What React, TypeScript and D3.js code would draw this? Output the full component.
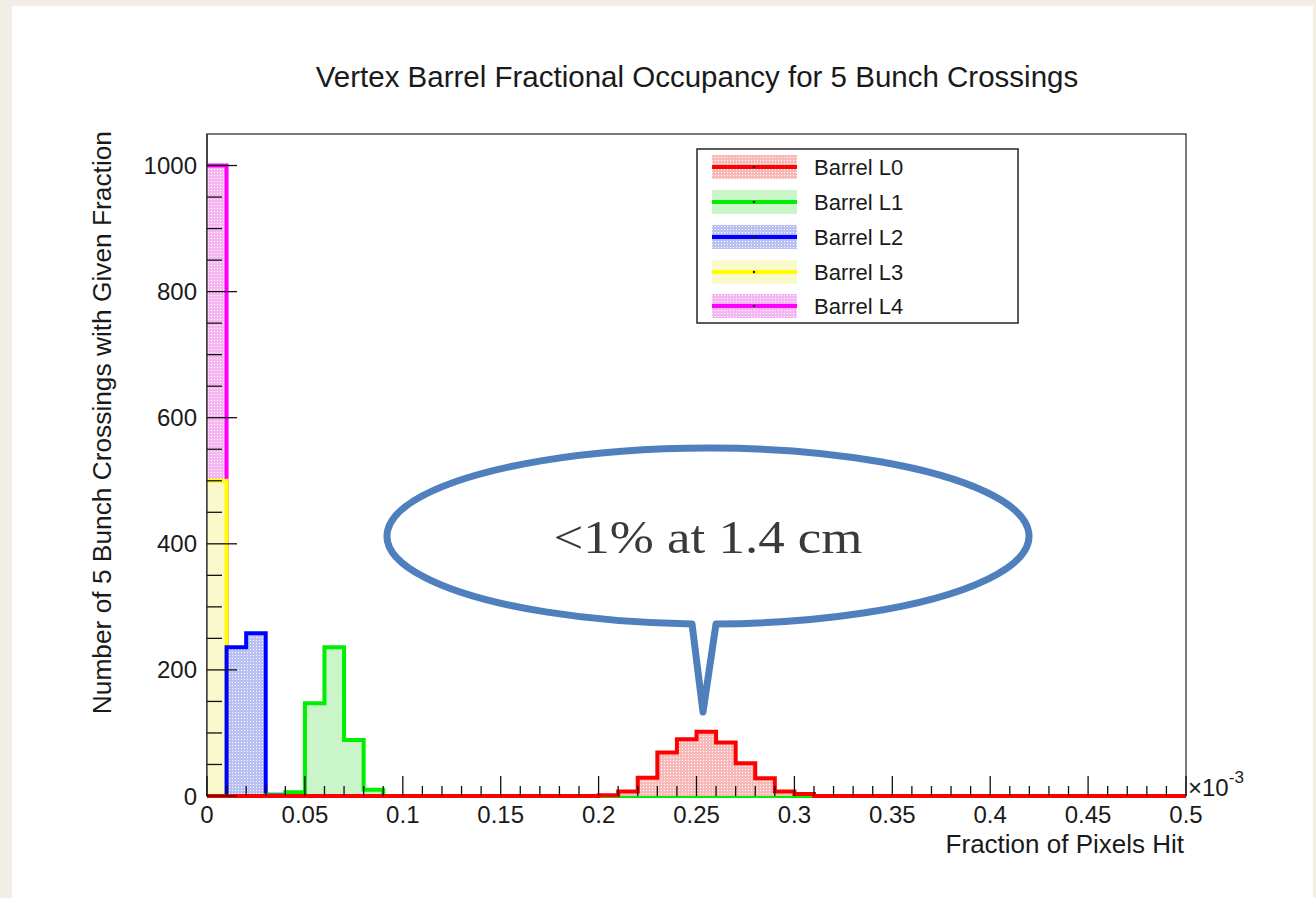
import React from "react";
import * as d3 from "d3";

// Occupancy histograms: 50 bins of width 0.01 (x10^-3) between 0 and 0.5
const NBINS = 50;
const BIN_LO = 0;
const BIN_HI = 0.5;

const layerNames = ["Barrel L0", "Barrel L1", "Barrel L2", "Barrel L3", "Barrel L4"];

// counts per bin, starting at the given bin index; all other bins are empty
const countsL0 = { first: 20, counts: [1, 7, 29, 69, 90, 102, 85, 52, 28, 7, 3] };
const countsL1 = { first: 3, counts: [1, 6, 147, 236, 89, 10] };
const countsL2 = { first: 1, counts: [236, 258, 2] };
const countsL3 = { first: 0, counts: [500] };
const countsL4 = { first: 0, counts: [1000] };

const xTickValues = [0, 0.05, 0.1, 0.15, 0.2, 0.25, 0.3, 0.35, 0.4, 0.45, 0.5];
const xTickLabels = ["0", "0.05", "0.1", "0.15", "0.2", "0.25", "0.3", "0.35", "0.4", "0.45", "0.5"];
const yTickValues = [0, 200, 400, 600, 800, 1000];
const yTickLabels = ["0", "200", "400", "600", "800", "1000"];

const W = 1316;
const H = 898;
const frame = { left: 207, right: 1186, top: 134, bottom: 796 };

const sans = "'Liberation Sans', Arial, Helvetica, sans-serif";

function expand(s: { first: number; counts: number[] }): number[] {
  const out = new Array(NBINS).fill(0);
  s.counts.forEach((c, i) => (out[s.first + i] = c));
  return out;
}

type Layer = { name: string; values: number[]; line: string; fill: string };

export default function App() {
  const x = d3.scaleLinear().domain([BIN_LO, BIN_HI]).range([frame.left, frame.right]);
  const y = d3.scaleLinear().domain([0, 1050]).range([frame.bottom, frame.top]);
  const binW = (BIN_HI - BIN_LO) / NBINS;

  const layers: Layer[] = [
    { name: layerNames[0], values: expand(countsL0), line: "#ff0000", fill: "url(#patRed)" },
    { name: layerNames[1], values: expand(countsL1), line: "#00ee00", fill: "#c9f5c9" },
    { name: layerNames[2], values: expand(countsL2), line: "#0000ff", fill: "url(#patBlue)" },
    { name: layerNames[3], values: expand(countsL3), line: "#ffff00", fill: "#f9f9cc" },
    { name: layerNames[4], values: expand(countsL4), line: "#ff00ff", fill: "url(#patMagenta)" },
  ];

  const stepPts = (vals: number[]): [number, number][] => {
    const pts: [number, number][] = vals.map((v, i) => [BIN_LO + i * binW, v]);
    pts.push([BIN_HI, vals[vals.length - 1]]);
    return pts;
  };

  const area = d3
    .area<[number, number]>()
    .x((d) => x(d[0]))
    .y0(y(0))
    .y1((d) => y(d[1]))
    .curve(d3.curveStepAfter);

  const outline = d3
    .line<[number, number]>()
    .x((d) => x(d[0]))
    .y((d) => y(d[1]))
    .curve(d3.curveStepAfter);

  // outline starts at the first bin's height on the left edge of the frame
  const outlinePts = (vals: number[]): [number, number][] => [...stepPts(vals), [BIN_HI, 0]];

  // drawn back to front: L4 first, L0 last
  const drawOrder = [4, 3, 2, 1, 0];

  const xMinor = d3.range(0, NBINS + 1).map((i) => BIN_LO + i * binW);
  const yMinor = d3.range(0, 1001, 50);

  const legend = { x: 697, y: 149, w: 321, h: 174 };
  const legendRows = [167, 202, 237, 272, 306];

  // speech bubble geometry
  const bub = { cx: 708, cy: 536, rx: 321, ry: 88 };
  const baseL = 692;
  const baseR = 716;
  const yOn = (px: number) => bub.cy + bub.ry * Math.sqrt(1 - ((px - bub.cx) / bub.rx) ** 2);
  const tip = [703, 712];
  const bubblePath = `M${baseR},${yOn(baseR)} A${bub.rx},${bub.ry} 0 1 0 ${baseL},${yOn(baseL)} L${tip[0]},${tip[1]} Z`;

  return (
    <svg width={W} height={H} style={{ position: "absolute", left: 0, top: 0 }} xmlns="http://www.w3.org/2000/svg">
      <defs>
        <pattern id="patRed" width="3" height="3" patternUnits="userSpaceOnUse">
          <rect width="3" height="3" fill="#f8b9b9" />
          <rect x="1" y="1" width="1" height="1" fill="#fff" />
        </pattern>
        <pattern id="patBlue" width="3" height="3" patternUnits="userSpaceOnUse">
          <rect width="3" height="3" fill="#b9c0f2" />
          <rect x="1" y="1" width="1" height="1" fill="#fff" />
        </pattern>
        <pattern id="patMagenta" width="3" height="3" patternUnits="userSpaceOnUse">
          <rect width="3" height="3" fill="#f6b6f2" />
          <rect x="1" y="1" width="1" height="1" fill="#fff" />
        </pattern>
      </defs>

      {/* page */}
      <rect x={0} y={0} width={W} height={H} fill="#f2eee5" />
      <rect x={12} y={6} width={1301} height={H} fill="#ffffff" />

      {/* title */}
      <text x={697} y={87} textAnchor="middle" fontFamily={sans} fontSize={29.5} fill="#1a1a1a">
        Vertex Barrel Fractional Occupancy for 5 Bunch Crossings
      </text>

      {/* frame */}
      <rect
        x={frame.left}
        y={frame.top}
        width={frame.right - frame.left}
        height={frame.bottom - frame.top}
        fill="#ffffff"
        stroke="#222"
        strokeWidth={1.2}
      />

      {/* histograms */}
      {drawOrder.map((k) => {
        const L = layers[k];
        return (
          <g key={L.name}>
            <path d={area(stepPts(L.values)) || ""} fill={L.fill} />
            <path d={outline(outlinePts(L.values)) || ""} fill="none" stroke={L.line} strokeWidth={4} />
          </g>
        );
      })}

      {/* left frame edge redrawn over the fills */}
      <line x1={frame.left} x2={frame.left} y1={frame.top} y2={frame.bottom} stroke="#222" strokeWidth={1.2} />

      {/* ticks */}
      <g stroke="#111" strokeWidth={1.3}>
        {xMinor.map((v, i) => (
          <line key={"xm" + i} x1={x(v)} x2={x(v)} y1={frame.bottom} y2={frame.bottom - (i % 5 === 0 ? 20 : 10)} />
        ))}
        {yMinor.map((v, i) => (
          <line key={"ym" + i} x1={frame.left} x2={frame.left + (v % 200 === 0 ? 30 : 15)} y1={y(v)} y2={y(v)} />
        ))}
      </g>

      {/* tick labels */}
      <g fontFamily={sans} fontSize={24} fill="#1a1a1a">
        {xTickValues.map((v, i) => (
          <text key={"xl" + i} x={x(v)} y={823} textAnchor="middle">
            {xTickLabels[i]}
          </text>
        ))}
        {yTickValues.map((v, i) => (
          <text key={"yl" + i} x={197} y={y(v) + 8.5} textAnchor="end">
            {yTickLabels[i]}
          </text>
        ))}
      </g>
      <text x={1188} y={796} fontFamily={sans} fontSize={24} fill="#1a1a1a">
        ×10
        <tspan dy={-13} fontSize={17}>
          -3
        </tspan>
      </text>

      {/* axis titles */}
      <text x={1184} y={853} textAnchor="end" fontFamily={sans} fontSize={26} fill="#1a1a1a">
        Fraction of Pixels Hit
      </text>
      <text
        transform={`translate(111,${frame.top - 3}) rotate(-90)`}
        textAnchor="end"
        fontFamily={sans}
        fontSize={26.3}
        fill="#1a1a1a"
      >
        Number of 5 Bunch Crossings with Given Fraction
      </text>

      {/* legend */}
      <rect x={legend.x} y={legend.y} width={legend.w} height={legend.h} fill="#fff" stroke="#333" strokeWidth={1.6} />
      {layers.map((L, i) => {
        const cy = legendRows[i];
        return (
          <g key={"lg" + i}>
            <rect x={712} y={cy - 12} width={85} height={24} fill={L.fill} />
            <line x1={712} x2={797} y1={cy} y2={cy} stroke={L.line} strokeWidth={4} />
            <circle cx={754} cy={cy} r={1.3} fill="#222" />
            <text x={814} y={cy + 8} fontFamily={sans} fontSize={22} fill="#1a1a1a">
              {L.name}
            </text>
          </g>
        );
      })}

      {/* callout */}
      <path d={bubblePath} fill="#ffffff" stroke="#4f80bd" strokeWidth={7} strokeLinejoin="round" />
      <text
        x={bub.cx}
        y={553}
        textAnchor="middle"
        fontFamily="'Liberation Serif', 'Times New Roman', serif"
        fontSize={46}
        fill="#3a3a3a"
        textLength={309}
        lengthAdjust="spacingAndGlyphs"
      >
        {"<1% at 1.4 cm"}
      </text>
    </svg>
  );
}
